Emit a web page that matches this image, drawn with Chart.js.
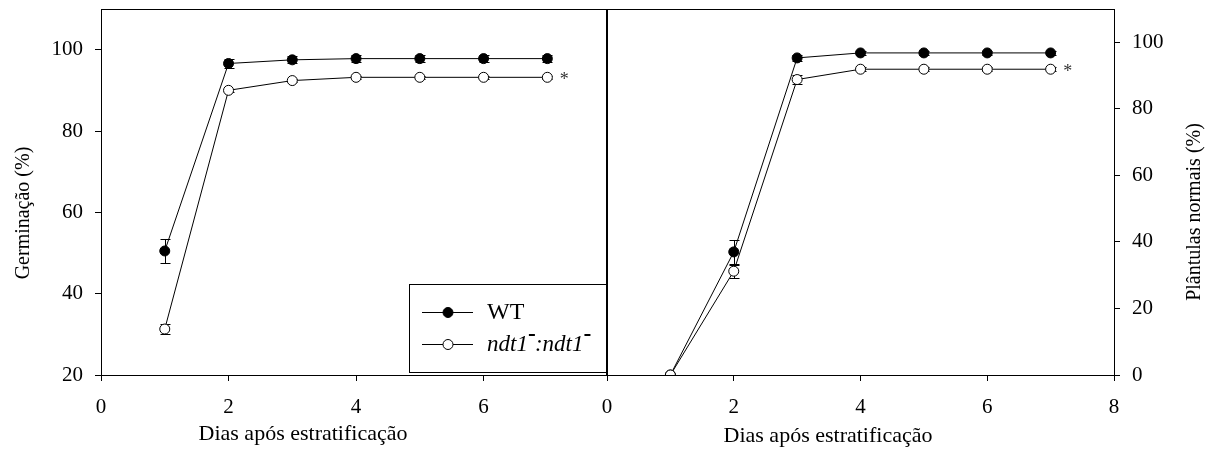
<!DOCTYPE html>
<html>
<head>
<meta charset="utf-8">
<script src="https://cdn.jsdelivr.net/npm/chart.js@4/dist/chart.umd.min.js"></script>
<style>
  body { margin: 0; background: #fff; }
  canvas { position: absolute; top: 0; }
  #germChart { left: 0; }
  #plantChart { left: 600px; }
</style>
</head>
<body>
<canvas id="germChart" width="612" height="459"></canvas>
<canvas id="plantChart" width="616" height="459"></canvas>
<script>
// days after stratification
const days = [1, 2, 3, 4, 5, 6, 7];

// left panel: germination (%)
const germWT = [50.5, 96.6, 97.5, 97.8, 97.8, 97.8, 97.8];
const germWTErr = [3.0, 1.2, 0.9, 0.8, 0.8, 0.8, 0.8];
const germNdt = [31.3, 90.0, 92.4, 93.2, 93.2, 93.2, 93.2];
const germNdtErr = [1.2, 0.3, 0.3, 0.3, 0.3, 0.3, 0.3];

// right panel: normal seedlings (%)
const plantWT = [0, 37.0, 95.3, 96.8, 96.8, 96.8, 96.8];
const plantWTErr = [0, 3.5, 0.8, 0.7, 0.7, 0.7, 0.7];
const plantNdt = [0, 31.2, 88.8, 91.9, 91.9, 91.9, 91.9];
const plantNdtErr = [0, 2.0, 1.3, 0.6, 0.6, 0.6, 0.6];

const germTicks = [20, 40, 60, 80, 100];
const plantTicks = [0, 20, 40, 60, 80, 100];
const dayTicks = [0, 2, 4, 6, 8];

const FONT = 'Liberation Serif';

function toPoints(ys) {
    return days.map((d, i) => ({ x: d, y: ys[i] }));
}

// error bars under the markers
function errorPlugin(name, errors) {
    return {
        id: 'err_' + name,
        beforeDatasetsDraw(chart) {
            const ctx = chart.ctx;
            const xs = chart.scales.x, ys = chart.scales.y;
            ctx.save();
            ctx.strokeStyle = '#000';
            ctx.lineWidth = 1;
            errors.forEach(([vals, errs]) => {
                vals.forEach((v, i) => {
                    if (!errs[i]) return;
                    const px = Math.round(xs.getPixelForValue(days[i])) + 0.5;
                    const top = Math.round(ys.getPixelForValue(v + errs[i])) + 0.5;
                    const bot = Math.round(ys.getPixelForValue(v - errs[i])) + 0.5;
                    ctx.beginPath();
                    ctx.moveTo(px, top); ctx.lineTo(px, bot);
                    ctx.moveTo(px - 5, top); ctx.lineTo(px + 5, top);
                    ctx.moveTo(px - 5, bot); ctx.lineTo(px + 5, bot);
                    ctx.stroke();
                });
            });
            ctx.restore();
        }
    };
}

// frame, asterisk and axis titles
function framePlugin(cfg) {
    return {
        id: 'frame_' + cfg.name,
        afterDraw(chart) {
            const ctx = chart.ctx;
            const a = chart.chartArea;
            const xs = chart.scales.x, ys = chart.scales.y;
            ctx.save();
            ctx.strokeStyle = '#000';
            ctx.lineWidth = 1;
            ctx.strokeRect(Math.round(a.left) + 0.5, Math.round(a.top) + 0.5,
                Math.round(a.right - a.left), Math.round(a.bottom - a.top));

            const last = days.length - 1;
            ctx.fillStyle = '#333';
            ctx.font = '18px ' + FONT;
            ctx.textAlign = 'center';
            ctx.textBaseline = 'middle';
            ctx.fillText('*', xs.getPixelForValue(days[last]) + 17, ys.getPixelForValue(cfg.starY) + 3);

            ctx.fillStyle = '#000';
            ctx.font = '22px ' + FONT;
            ctx.textBaseline = 'alphabetic';
            ctx.fillText(cfg.xTitle, cfg.xTitlePos[0], cfg.xTitlePos[1]);
            ctx.translate(cfg.yTitlePos[0], cfg.yTitlePos[1]);
            ctx.rotate(-Math.PI / 2);
            ctx.textBaseline = 'middle';
            ctx.font = '20px ' + FONT;
            ctx.fillText(cfg.yTitle, 0, 0);
            ctx.restore();
        }
    };
}

// legend box inside left panel
const legendPlugin = {
    id: 'legendBox',
    afterDraw(chart) {
        const ctx = chart.ctx;
        ctx.save();
        ctx.strokeStyle = '#000';
        ctx.lineWidth = 1;
        ctx.strokeRect(409.5, 284.5, 198, 88);
        [{ y: 312, fill: '#000' }, { y: 344, fill: '#fff' }].forEach(r => {
            ctx.beginPath();
            ctx.moveTo(422, r.y + 0.5); ctx.lineTo(473, r.y + 0.5);
            ctx.stroke();
            ctx.beginPath();
            ctx.arc(448, r.y + 0.5, 5, 0, Math.PI * 2);
            ctx.fillStyle = r.fill;
            ctx.fill();
            ctx.stroke();
        });
        ctx.fillStyle = '#000';
        ctx.textBaseline = 'middle';
        ctx.textAlign = 'left';
        ctx.font = '24px ' + FONT;
        ctx.fillText('WT', 487, 313);
        ctx.font = 'italic 23px ' + FONT;
        let x = 487;
        ['ndt1', ':ndt1'].forEach(p => {
            ctx.fillText(p, x, 345);
            x += ctx.measureText(p).width;
            ctx.fillRect(x + 1, 334, 6, 2);
            x += 7;
        });
        ctx.restore();
    }
};

function lineDatasets(wt, ndt) {
    return [{
        label: 'WT',
        data: toPoints(wt),
        borderColor: '#000',
        borderWidth: 1,
        backgroundColor: '#000',
        pointBackgroundColor: '#000',
        pointBorderColor: '#000',
        pointRadius: 5,
        order: 1
    }, {
        label: 'ndt1-:ndt1-',
        data: toPoints(ndt),
        borderColor: '#000',
        borderWidth: 1,
        backgroundColor: '#fff',
        pointBackgroundColor: '#fff',
        pointBorderColor: '#000',
        pointRadius: 5,
        order: 0
    }];
}

function makeX(max) {
    return {
        type: 'linear', min: 0, max: max,
        grid: { drawOnChartArea: false, tickLength: 6, color: '#000' },
        ticks: { stepSize: 2, padding: 14, color: '#000', font: { family: FONT, size: 21 } },
        afterBuildTicks: sc => { sc.ticks = dayTicks.filter(v => v <= max).map(v => ({ value: v })); },
        afterFit: sc => { sc.height = 84; sc.paddingLeft = 0; sc.paddingRight = 0; }
    };
}

function makeY(min, max, tickVals, pos, width) {
    return {
        position: pos, min: min, max: max,
        grid: { drawOnChartArea: false, tickLength: 6, color: '#000' },
        ticks: { padding: 12, color: '#000', font: { family: FONT, size: 21 } },
        afterBuildTicks: sc => { sc.ticks = tickVals.map(v => ({ value: v })); },
        afterFit: sc => { sc.width = width; sc.paddingTop = 0; sc.paddingBottom = 0; }
    };
}

// left canvas: plot area 101..608
new Chart(document.getElementById('germChart'), {
    type: 'line',
    data: { datasets: lineDatasets(germWT, germNdt) },
    options: {
        responsive: false,
        animation: false,
        devicePixelRatio: 1,
        layout: { padding: { right: 4, top: 9 } },
        plugins: { legend: { display: false } },
        scales: {
            x: makeX(7.92),
            y: makeY(20, 110, germTicks, 'left', 101)
        }
    },
    plugins: [
        errorPlugin('germ', [[germWT, germWTErr], [germNdt, germNdtErr]]),
        framePlugin({
            name: 'germ',
            starY: germNdt[germNdt.length - 1],
            xTitle: 'Dias após estratificação',
            xTitlePos: [303, 440],
            yTitle: 'Germinação (%)',
            yTitlePos: [24, 213]
        }),
        legendPlugin
    ]
});

// right canvas starts at page x 600: plot area 607..1114
new Chart(document.getElementById('plantChart'), {
    type: 'line',
    data: { datasets: lineDatasets(plantWT, plantNdt) },
    options: {
        responsive: false,
        animation: false,
        devicePixelRatio: 1,
        layout: { padding: { left: 7, top: 9 } },
        plugins: { legend: { display: false } },
        scales: {
            x: makeX(8),
            y: makeY(0, 110, plantTicks, 'right', 102)
        }
    },
    plugins: [
        errorPlugin('plant', [[plantWT, plantWTErr], [plantNdt, plantNdtErr]]),
        framePlugin({
            name: 'plant',
            starY: plantNdt[plantNdt.length - 1],
            xTitle: 'Dias após estratificação',
            xTitlePos: [228, 442],
            yTitle: 'Plântulas normais (%)',
            yTitlePos: [595, 212]
        })
    ]
});
</script>
</body>
</html>
